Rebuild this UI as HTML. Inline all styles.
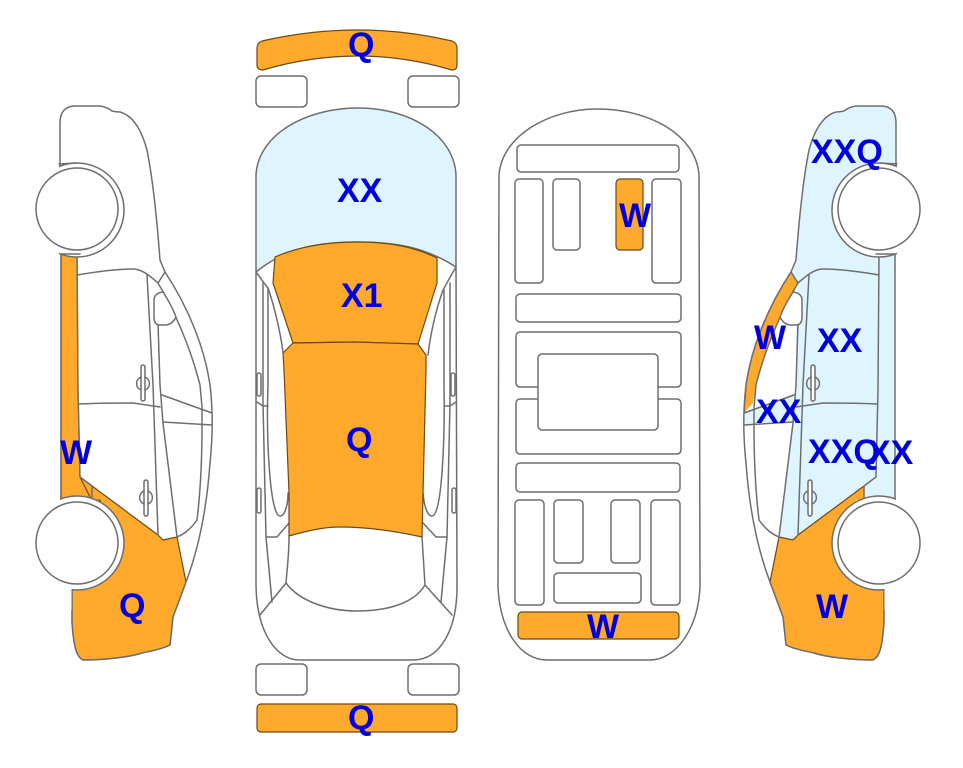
<!DOCTYPE html>
<html>
<head>
<meta charset="utf-8">
<style>
html,body{margin:0;padding:0;background:#fff;}
svg{display:block;}
text{font-family:"Liberation Sans",sans-serif;font-weight:bold;font-size:34px;fill:#0000dc;}
.l{fill:none;stroke:#6e6e6e;stroke-width:1.5;stroke-linejoin:round;stroke-linecap:round;}
.w{fill:#fff;stroke:#6e6e6e;stroke-width:1.5;}
.o{fill:#ffa92d;stroke:#6b4a14;stroke-width:1.2;stroke-linejoin:round;}
.b{fill:#def5ff;stroke:none;}
.bs{fill:#def5ff;stroke:#6e6e6e;stroke-width:1.5;stroke-linejoin:round;}
.n{fill:#ffa92d;stroke:none;}
</style>
</head>
<body>
<svg width="963" height="768" viewBox="0 0 963 768" xmlns="http://www.w3.org/2000/svg">
<defs>
  <g id="sideLines">
    <path class="l" d="M60 170 L60 123 Q60 107 74 106 L100 106 Q107 107 112 111 Q116 112 120 112 C135 116 143 135 147 150 C153 180 157 220 160 260 L165 272 C190 310 205 350 210 385 C213 410 213 435 210 463 C207 505 200 545 186 582 L173 617 L170 645 C160 650 150 651 142 653 C130 657 105 660 83 660 C77 657 74 650 72 623 L72 589"/>
    <path class="l" d="M77 275 C100 271 118 269 133 269 C142 269 150 276 158 283 C172 306 190 345 200 385 L202 407 L202 427 C202 465 200 495 197 520 C190 530 184 534 177 537"/>
    <path class="l" d="M165 272 L158 283"/>
    <path class="l" d="M147 275 L153 385 L158 535"/>
    <path class="l" d="M158 323 L160 385 L163 423 L177 537"/>
    <path class="l" d="M79 404 C100 403 120 403 133 403 L160 407"/>
    <path class="l" d="M162 395 L212 413 M163 422 L212 425"/>
    <path class="l" d="M77 253 L78 390 L80 477 L92 486 L92 501"/>
    <path class="w" d="M154 299 Q155 293 163 292 Q172 306 176 317 Q172 325 165 325 L160 325 Q154 325 154 317 Z"/>
    <rect class="w" x="141" y="365" width="4" height="36" rx="2"/>
    <path class="l" d="M141 377 A7 7 0 0 0 141 390 M145 377 A7 7 0 0 1 145 390"/>
    <rect class="w" x="144" y="480" width="4" height="36" rx="2"/>
    <path class="l" d="M144 491 A7 7 0 0 0 144 504 M148 491 A7 7 0 0 1 148 504"/>
    <path class="l" d="M61 253 L61 501"/>
  </g>
  <g id="wheels">
    <circle cx="77" cy="210" r="47" class="w"/>
    <circle cx="77" cy="543" r="47" class="w"/>
    <rect x="20" y="150" width="39" height="120" fill="#fff"/>
    <rect x="20" y="485" width="40" height="70" fill="#fff"/>
    <rect x="20" y="550" width="51.5" height="60" fill="#fff"/>
    <path class="l" d="M59 164 L76 163 M61 254 L80 254"/>
    <circle cx="77" cy="209" r="41" class="w"/>
    <circle cx="77" cy="543" r="41" class="w"/>
  </g>
</defs>

<!-- LEFT CAR -->
<path class="o" d="M61 253 L77 253 L78 390 L80 477 L92 486 L92 501 L61 501 Z"/>
<path class="o" d="M80 477 L158 535 L163 540 L177 537 L186 582 L173 617 L170 645 C160 650 150 651 142 653 C130 657 105 660 83 660 C77 657 74 650 72 623 L72 589 L110 560 L100 500 L92 501 Z"/>
<use href="#sideLines"/>
<use href="#wheels"/>

<!-- RIGHT CAR -->
<g transform="matrix(-1 0 0 1 956 0)">
  <path class="b" d="M60 170 L60 123 Q60 107 74 106 L100 106 Q107 107 112 111 Q116 112 120 112 C135 116 143 135 147 150 C153 180 157 220 160 260 L165 272 L158 283 L160 323 L160 385 L163 423 L177 537 L163 540 L158 535 L92 486 L92 501 L61 501 Z"/>
  <path class="b" d="M162 395 L212 413 L212 425 L163 422 Z"/>
  <path class="n" d="M165 272 C190 310 205 350 210 385 L212 413 L203 403 L200 385 C190 345 172 306 158 283 Z"/>
  <path class="n" d="M92 486 L158 535 L163 540 L177 537 L186 582 L173 617 L170 645 C160 650 150 651 142 653 C130 657 105 660 83 660 C77 657 74 650 72 623 L72 589 L110 560 L100 500 L92 501 Z"/>
  <path d="M165 272 C190 310 205 350 210 385 L212 413 M162 395 L212 413" fill="none" stroke="#6b4a14" stroke-width="1.2"/>
  <path d="M92 486 L158 535 L163 540 L177 537 L186 582 L173 617 L170 645 C160 650 150 651 142 653 C130 657 105 660 83 660 C77 657 74 650 72 623 L72 589" fill="none" stroke="#6b4a14" stroke-width="1.2"/>
  <use href="#sideLines"/>
  <use href="#wheels"/>
</g>

<!-- TOP VIEW -->
<path class="o" d="M257 48 Q257 43 262 41 Q310 30 358 30 Q405 30 452 41 Q457 43 457 48 L457 65 Q457 70 452 70 Q405 56 358 56 Q310 56 263 70 Q257 70 257 65 Z"/>
<rect class="w" x="256" y="76" width="51" height="31" rx="5"/>
<rect class="w" x="408" y="76" width="51" height="31" rx="5"/>
<path class="bs" d="M256 272 L256 175 C258 135 305 108 358 108 C410 108 454 135 456 175 L456 267 C425 247 395 242 357 242 C320 242 285 248 256 272 Z"/>
<path class="l" d="M256 272 L256 583 C256 630 275 660 300 660 L413 660 C440 660 457 630 457 587 L456 267"/>
<path class="l" d="M256 272 C262 280 266 286 268 288 C274 305 280 330 283 352 M456 267 C450 277 446 285 443 290 C436 310 431 330 428 355"/>
<path class="l" d="M263 283 L263 403 L266 537 L272 602 M268 288 L268 385 C266 440 270 516 280 516 C285 516 288 505 288 493"/>
<path class="l" d="M450 283 L450 403 L447 537 L441 602 M444 290 L444 385 C445 440 442 516 432 516 C427 516 424 505 423 493"/>
<path class="l" d="M257 402 L263 406 L268 406 M456 402 L450 406 L445 406"/>
<path class="l" d="M266 537 L277 537 L289 523 M447 537 L436 537 L423 523"/>
<path class="l" d="M260 615 L286 583 C287 570 289 555 289 537 M452 615 L425 585 C424 570 423 555 422 537"/>
<path class="l" d="M286 583 C300 602 330 611 357 611 C390 611 415 602 425 585"/>
<path class="o" d="M275 257 C300 246 330 242 357 242 C390 242 415 247 437 258 L437 283 L418 344 L355 342 L293 343 L273 283 Z"/>
<path class="o" d="M293 343 L283 353 L284 370 L289 493 L289 536 C310 530 325 527 340 527 C365 527 395 531 422 537 L423 493 L426 370 L426 355 L418 344 L355 342 Z"/>
<rect class="w" x="257" y="373" width="4" height="23" rx="2"/>
<rect class="w" x="257" y="488" width="4" height="25" rx="2"/>
<rect class="w" x="451" y="373" width="4" height="23" rx="2"/>
<rect class="w" x="452" y="488" width="4" height="25" rx="2"/>
<rect class="w" x="256" y="664" width="51" height="31" rx="5"/>
<rect class="w" x="408" y="664" width="51" height="31" rx="5"/>
<rect class="o" x="257" y="704" width="200" height="28" rx="4"/>

<!-- UNDERSIDE VIEW -->
<path class="l" d="M499 175 C502 135 550 109 597 109 C650 109 696 135 699 175 L700 587 C698 630 675 660 650 660 L547 660 C520 660 500 630 498 587 Z"/>
<rect class="w" x="517" y="145" width="162" height="27" rx="4"/>
<rect class="w" x="515" y="179" width="28" height="104" rx="4"/>
<rect class="w" x="553" y="179" width="27" height="71" rx="4"/>
<rect class="o" x="616" y="179" width="27" height="71" rx="4"/>
<rect class="w" x="652" y="179" width="29" height="104" rx="4"/>
<rect class="w" x="516" y="294" width="165" height="28" rx="4"/>
<rect class="w" x="516" y="332" width="165" height="55" rx="4"/>
<rect class="w" x="516" y="399" width="165" height="55" rx="4"/>
<rect class="w" x="538" y="354" width="120" height="76" rx="4"/>
<rect class="w" x="516" y="463" width="164" height="29" rx="4"/>
<rect class="w" x="515" y="500" width="29" height="105" rx="4"/>
<rect class="w" x="554" y="500" width="29" height="63" rx="4"/>
<rect class="w" x="611" y="500" width="29" height="63" rx="4"/>
<rect class="w" x="651" y="500" width="29" height="105" rx="4"/>
<rect class="w" x="554" y="573" width="87" height="30" rx="4"/>
<rect class="o" x="518" y="612" width="161" height="27" rx="4"/>

<!-- LABELS -->
<text x="348" y="56">Q</text>
<text x="337" y="202">XX</text>
<text x="341" y="307">X1</text>
<text x="346" y="451">Q</text>
<text x="348" y="729">Q</text>
<text x="60" y="464">W</text>
<text x="119" y="617">Q</text>
<text x="619" y="227">W</text>
<text x="587" y="638">W</text>
<text x="811" y="163">XXQ</text>
<text x="817" y="352">XX</text>
<text x="754" y="349">W</text>
<text x="756" y="423">XX</text>
<text x="808" y="463">XXQ</text>
<text x="868" y="464">XX</text>
<text x="816" y="618">W</text>
</svg>
</body>
</html>
